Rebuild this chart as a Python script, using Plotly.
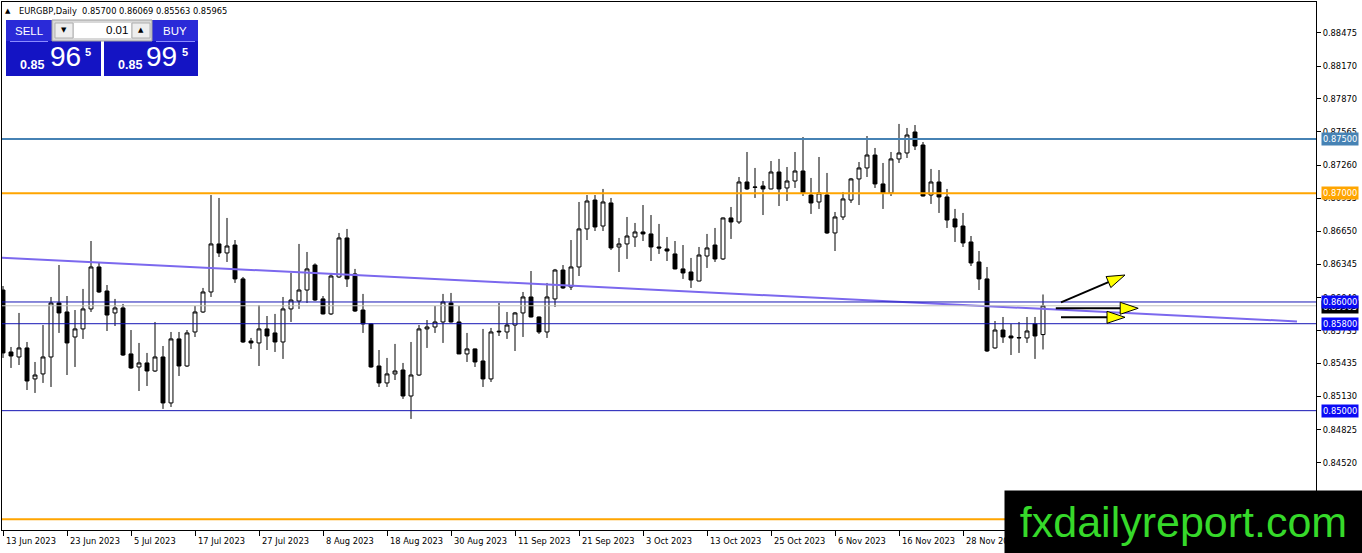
import math
import plotly.graph_objects as go

# EURGBP daily candles from 13 Jun 2023 (bar 0) to 12 Dec 2023
opens = [0.86110, 0.85540, 0.85494, 0.85577, 0.85292, 0.85338, 0.85494, 0.85991, 0.85908, 0.85678,
         0.85752, 0.85936, 0.86322, 0.86101, 0.85899, 0.85945, 0.85522, 0.85402, 0.85439, 0.85365,
         0.85494, 0.85071, 0.85660, 0.85411, 0.85724, 0.85908, 0.86092, 0.86534, 0.86451, 0.86524,
         0.86212, 0.85641, 0.85623, 0.85752, 0.85715, 0.85632, 0.85936, 0.86009, 0.86110, 0.86340,
         0.86028, 0.85890, 0.86230, 0.86589, 0.86258, 0.85926, 0.85798, 0.85411, 0.85255, 0.85338,
         0.85374, 0.85135, 0.85328, 0.85752, 0.85770, 0.85816, 0.85991, 0.85816, 0.85522, 0.85568,
         0.85457, 0.85292, 0.85724, 0.85724, 0.85788, 0.85899, 0.86046, 0.85862, 0.85724, 0.86028,
         0.86294, 0.86138, 0.86322, 0.86672, 0.86938, 0.86699, 0.86911, 0.86506, 0.86534, 0.86598,
         0.86644, 0.86626, 0.86506, 0.86488, 0.86442, 0.86304, 0.86276, 0.86193, 0.86423, 0.86524,
         0.86396, 0.86773, 0.86736, 0.87104, 0.87058, 0.87067, 0.87040, 0.87196, 0.87049, 0.87113,
         0.87205, 0.86984, 0.86920, 0.86984, 0.86635, 0.86782, 0.86938, 0.87132, 0.87233, 0.87352,
         0.87086, 0.87003, 0.87316, 0.87371, 0.87564, 0.87444, 0.86984, 0.87104, 0.86966, 0.86764,
         0.86699, 0.86552, 0.86368, 0.86212, 0.85577, 0.85742, 0.85687, 0.85669, 0.85669, 0.85798,
         0.85700]
highs = [0.86147, 0.85586, 0.85899, 0.85632, 0.85448, 0.85788, 0.86046, 0.86340, 0.86055, 0.85926,
         0.86120, 0.86561, 0.86368, 0.86156, 0.86028, 0.85982, 0.85742, 0.85623, 0.85531, 0.85816,
         0.85595, 0.85724, 0.85724, 0.85742, 0.85963, 0.86129, 0.86984, 0.86957, 0.86773, 0.86570,
         0.86230, 0.85669, 0.85972, 0.85871, 0.85890, 0.86046, 0.86267, 0.86534, 0.86460, 0.86355,
         0.86055, 0.86267, 0.86635, 0.86672, 0.86304, 0.86074, 0.85805, 0.85558, 0.85485, 0.85614,
         0.85439, 0.85632, 0.85788, 0.85834, 0.85963, 0.86074, 0.86083, 0.85963, 0.85715, 0.85572,
         0.85752, 0.85761, 0.85991, 0.85908, 0.85908, 0.86092, 0.86285, 0.85866, 0.86175, 0.86304,
         0.86340, 0.86570, 0.86920, 0.86984, 0.86984, 0.87040, 0.86957, 0.86589, 0.86782, 0.86727,
         0.86892, 0.86800, 0.86718, 0.86598, 0.86561, 0.86524, 0.86405, 0.86506, 0.86626, 0.86681,
         0.86778, 0.86874, 0.87150, 0.87380, 0.87233, 0.87113, 0.87297, 0.87316, 0.87242, 0.87380,
         0.87518, 0.87141, 0.87334, 0.87187, 0.86828, 0.87012, 0.87141, 0.87288, 0.87527, 0.87417,
         0.87279, 0.87380, 0.87638, 0.87601, 0.87628, 0.87472, 0.87224, 0.87214, 0.87040, 0.86856,
         0.86819, 0.86607, 0.86469, 0.86322, 0.85825, 0.85862, 0.85798, 0.85816, 0.85862, 0.85862,
         0.86069]
lows = [0.85485, 0.85393, 0.85420, 0.85190, 0.85163, 0.85255, 0.85218, 0.85715, 0.85328, 0.85402,
        0.85660, 0.85908, 0.86083, 0.85733, 0.85779, 0.85503, 0.85384, 0.85181, 0.85227, 0.85356,
        0.85016, 0.85034, 0.85319, 0.85402, 0.85678, 0.85899, 0.86046, 0.86414, 0.86368, 0.86175,
        0.85623, 0.85568, 0.85411, 0.85558, 0.85540, 0.85476, 0.85816, 0.85936, 0.85991, 0.86009,
        0.85885, 0.85880, 0.86221, 0.86138, 0.85908, 0.85715, 0.85395, 0.85218, 0.85218, 0.85282,
        0.85108, 0.84924, 0.85320, 0.85577, 0.85715, 0.85623, 0.85810, 0.85520, 0.85448, 0.85402,
        0.85218, 0.85264, 0.85687, 0.85660, 0.85549, 0.85678, 0.85858, 0.85706, 0.85669, 0.85954,
        0.86120, 0.86110, 0.86239, 0.86570, 0.86653, 0.86653, 0.86478, 0.86276, 0.86396, 0.86506,
        0.86561, 0.86377, 0.86442, 0.86377, 0.86300, 0.86212, 0.86129, 0.86190, 0.86313, 0.86368,
        0.86386, 0.86580, 0.86718, 0.87030, 0.86957, 0.86800, 0.87036, 0.86883, 0.86929, 0.87049,
        0.86975, 0.86810, 0.86856, 0.86626, 0.86469, 0.86754, 0.86911, 0.86892, 0.87150, 0.87049,
        0.86856, 0.86975, 0.87279, 0.87325, 0.87398, 0.86970, 0.86902, 0.86819, 0.86681, 0.86552,
        0.86506, 0.86331, 0.86110, 0.85540, 0.85570, 0.85623, 0.85512, 0.85531, 0.85623, 0.85476,
        0.85563]
closes = [0.85531, 0.85503, 0.85577, 0.85273, 0.85328, 0.85494, 0.85991, 0.85899, 0.85623, 0.85752,
          0.85936, 0.86322, 0.86092, 0.85880, 0.85945, 0.85512, 0.85393, 0.85439, 0.85365, 0.85494,
          0.85071, 0.85660, 0.85411, 0.85715, 0.85908, 0.86092, 0.86534, 0.86451, 0.86515, 0.86212,
          0.85632, 0.85623, 0.85752, 0.85687, 0.85632, 0.85936, 0.86018, 0.86110, 0.86304, 0.86018,
          0.85890, 0.86239, 0.86589, 0.86212, 0.85917, 0.85798, 0.85402, 0.85255, 0.85338, 0.85365,
          0.85135, 0.85328, 0.85752, 0.85770, 0.85816, 0.86000, 0.85816, 0.85522, 0.85568, 0.85448,
          0.85292, 0.85724, 0.85730, 0.85788, 0.85899, 0.86046, 0.85862, 0.85724, 0.86046, 0.86294,
          0.86129, 0.86322, 0.86672, 0.86929, 0.86690, 0.86920, 0.86497, 0.86534, 0.86607, 0.86644,
          0.86626, 0.86506, 0.86497, 0.86469, 0.86304, 0.86267, 0.86202, 0.86432, 0.86497, 0.86396,
          0.86773, 0.86736, 0.87104, 0.87040, 0.87055, 0.87040, 0.87196, 0.87040, 0.87113, 0.87205,
          0.87003, 0.86911, 0.87003, 0.86635, 0.86782, 0.86948, 0.87132, 0.87233, 0.87352, 0.87086,
          0.87003, 0.87316, 0.87371, 0.87536, 0.87435, 0.86975, 0.87104, 0.86966, 0.86754, 0.86690,
          0.86543, 0.86359, 0.86212, 0.85549, 0.85742, 0.85678, 0.85669, 0.85672, 0.85733, 0.85687,
          0.85965]

# time axis labels, one every 8 bars
date_labels = ["13 Jun 2023", "23 Jun 2023", "5 Jul 2023", "17 Jul 2023", "27 Jul 2023",
               "8 Aug 2023", "18 Aug 2023", "30 Aug 2023", "11 Sep 2023", "21 Sep 2023",
               "3 Oct 2023", "13 Oct 2023", "25 Oct 2023", "6 Nov 2023", "16 Nov 2023", "28 Nov 2023"]
label_step = 8

price_ticks = [0.88475, 0.88170, 0.87870, 0.87565, 0.87260, 0.86955, 0.86650, 0.86345,
               0.86040, 0.85735, 0.85435, 0.85130, 0.84825, 0.84520]

# horizontal levels drawn on the chart
levels = [0.87500, 0.87000, 0.86000, 0.85800, 0.85000, 0.84000]
level_colors = ["#4682b4", "#ffa500", "#1515b4", "#1515b4", "#1515b4", "#ffa500"]
tag_colors = ["#4682b4", "#ffa500", "#0a0af5", "#0a0af5", "#0a0af5", "#ffa500"]
level_widths = [2, 2, 1, 1, 1, 2]
bid = 0.85965

# trend line and the three arrows (bar index, price)
trend_x = [-1, 161.75]
trend_y = [0.86411, 0.85821]
arrow_x0 = [132.25, 131.6, 132.25]
arrow_y0 = [0.85997, 0.85942, 0.85859]
arrow_x1 = [140.25, 141.9, 140.25]
arrow_y1 = [0.86248, 0.85942, 0.85859]

header = "EURGBP,Daily\u00a0 0.85700 0.86069 0.85563 0.85965"

# ---- geometry of the window (pixels) ----
W, H = 1362, 553
L, R, T, B = 2, 1316, 2, 530
X_RANGE = [-0.125, 164.125]
Y_RANGE = [0.83902, 0.88760]
PX_PER_BAR = (R - L) / (X_RANGE[1] - X_RANGE[0])
PX_PER_PRICE = (B - T) / (Y_RANGE[1] - Y_RANGE[0])
FONT = "DejaVu Sans"
PANEL_FONT = "Liberation Sans"


def px(x):
    return (x - L) / (R - L)


def py(y):
    return (B - y) / (B - T)


x = list(range(len(opens)))

fig = go.Figure()
fig.add_trace(go.Candlestick(
    x=x, open=opens, high=highs, low=lows, close=closes,
    increasing=dict(fillcolor="white", line=dict(color="black", width=1)),
    decreasing=dict(fillcolor="black", line=dict(color="black", width=1)),
    whiskerwidth=0, hoverinfo="none", showlegend=False,
))
fig.add_trace(go.Scatter(
    x=trend_x, y=trend_y, mode="lines",
    line=dict(color="#7b68ee", width=2), hoverinfo="skip", showlegend=False,
))

shapes = []
# bid line
shapes.append(dict(type="line", xref="paper", yref="y", x0=0, x1=1, y0=bid, y1=bid,
                   line=dict(color="#c0c0c0", width=1)))
for lv, col, lw in zip(levels, level_colors, level_widths):
    shapes.append(dict(type="line", xref="paper", yref="y", x0=0, x1=1, y0=lv, y1=lv,
                       line=dict(color=col, width=lw)))

# arrows: black shaft + yellow head
HEAD_LEN, HEAD_HALF = 18, 6
for x0, y0, x1, y1 in zip(arrow_x0, arrow_y0, arrow_x1, arrow_y1):
    dx = (x1 - x0) * PX_PER_BAR
    dy = (y1 - y0) * PX_PER_PRICE
    d = math.hypot(dx, dy)
    ux, uy = dx / d, dy / d
    bx, by = -ux * HEAD_LEN, -uy * HEAD_LEN
    nx, ny = -uy * HEAD_HALF, ux * HEAD_HALF
    shapes.append(dict(type="line", xref="x", yref="y", x0=x0, y0=y0,
                       x1=x1 + bx / PX_PER_BAR, y1=y1 + by / PX_PER_PRICE,
                       line=dict(color="black", width=2)))
    pts = [(0, 0), (bx + nx, by + ny), (bx - nx, by - ny)]
    path = "M" + " L".join(f"{x1 + a / PX_PER_BAR},{y1 + b / PX_PER_PRICE}" for a, b in pts) + " Z"
    shapes.append(dict(type="path", xref="x", yref="y", path=path,
                       fillcolor="#ffff00", line=dict(color="black", width=1)))


# trade panel (pixel boxes converted to paper)
def box(x0, y0, x1, y1, fill, line=None):
    shapes.append(dict(type="rect", xref="paper", yref="paper",
                       x0=px(x0), x1=px(x1), y0=py(y1), y1=py(y0),
                       fillcolor=fill, line=dict(color=line or fill, width=1 if line else 0)))


box(6, 20, 101, 76, "#1414c4")
box(104, 20, 198, 76, "#1414c4")
box(6, 20, 52, 41, "#2a2ad8")
box(152, 20, 198, 41, "#2a2ad8")
box(52, 20, 152, 41, "#d8d8d8", "#a0a0a0")
box(55, 23, 73, 38, "#eeeeee", "#b0b0b0")
box(74, 23, 131, 38, "#ffffff")
box(132, 23, 150, 38, "#eeeeee", "#b0b0b0")
for a, b in [(10, 48), (156, 195)]:
    shapes.append(dict(type="line", xref="paper", yref="paper", x0=px(a), x1=px(b),
                       y0=py(41.5), y1=py(41.5), line=dict(color="#8c8cff", width=1)))

ann = []


def text(t, xp, yp, size, color="white", xanchor="center", family=PANEL_FONT):
    ann.append(dict(text=t, xref="paper", yref="paper", x=px(xp), y=py(yp),
                    xanchor=xanchor, yanchor="middle", showarrow=False,
                    font=dict(family=family, size=size, color=color)))


text("\u25b2", 8, 11, 7, "black", family=FONT)
text(header, 17, 11, 8.3, "black", "left", FONT)
text("SELL", 29, 31, 11.5)
text("BUY", 175, 31, 11.5)
text("\u25bc", 64, 30.5, 7, "black", family=FONT)
text("\u25b2", 141, 30.5, 7, "black", family=FONT)
text("0.01", 130, 30.5, 11.5, "black", "right")
text("<b>0.85</b>", 32, 65, 12.5)
text("96", 65, 57, 28)
text("<b>5</b>", 88, 52, 11)
text("<b>0.85</b>", 130, 65, 12.5)
text("99", 161, 57, 28)
text("<b>5</b>", 185, 52, 11)

# date labels, left aligned at their bar like MT4
for k, lab in enumerate(date_labels):
    ann.append(dict(text=lab, x=k * label_step, xref="x", y=0, yref="paper",
                    xanchor="left", yanchor="top", xshift=1, yshift=-4, showarrow=False,
                    font=dict(family=FONT, size=8.3, color="black")))

# price tags on the right scale (the 0.84 tag sits under the watermark, so it is left out)
ann.append(dict(text="0.85965", x=1, xref="paper", y=bid, yref="y", xanchor="left",
                yanchor="middle", xshift=5, yshift=-1, showarrow=False, bgcolor="black",
                borderpad=1, font=dict(family=FONT, size=8.3, color="white")))
for lv, col in zip(levels[:-1], tag_colors[:-1]):
    ann.append(dict(text=f"{lv:.5f}", x=1, xref="paper", y=lv, yref="y", xanchor="left",
                    yanchor="middle", xshift=5, showarrow=False, bgcolor=col, borderpad=1,
                    font=dict(family=FONT, size=8.3, color="white")))

# watermark
ann.append(dict(text="fxdailyreport.com", xref="paper", yref="paper",
                x=px(1183.5), y=py(522), xanchor="center", yanchor="middle",
                width=357, height=62, bgcolor="black", borderpad=0, showarrow=False,
                font=dict(family=PANEL_FONT, size=43, color="#36d92a")))

fig.update_layout(
    width=W, height=H,
    margin=dict(l=L, r=W - R, t=T, b=H - B),
    paper_bgcolor="white", plot_bgcolor="white",
    font=dict(family=FONT, size=8.3, color="black"),
    shapes=shapes, annotations=ann,
    showlegend=False,
    xaxis=dict(range=X_RANGE, showgrid=False, zeroline=False, showline=True, mirror=True,
               linecolor="black", linewidth=1, ticks="outside", ticklen=5, tickcolor="black",
               tickvals=[k * label_step for k in range(len(date_labels))], showticklabels=False,
               rangeslider=dict(visible=False), fixedrange=True),
    yaxis=dict(range=Y_RANGE, side="right", showgrid=False, zeroline=False, showline=True,
               mirror=True, linecolor="black", linewidth=1, ticks="outside", ticklen=4,
               tickcolor="black", tickvals=price_ticks,
               ticktext=[f"{v:.5f}" for v in price_ticks], tickfont=dict(size=8.3),
               fixedrange=True),
)

# the page's default body margin would push the chart 8px off the window
fig.write_html("out.html", config={"displayModeBar": False},
               post_script="document.body.style.margin='0';")
